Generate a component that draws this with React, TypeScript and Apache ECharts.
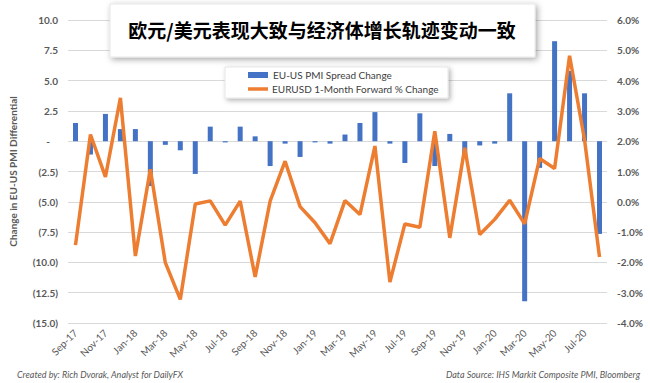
import React, { useEffect, useRef } from "react";
import * as echarts from "echarts";

const months = [
  "Sep-17", "Oct-17", "Nov-17", "Dec-17", "Jan-18", "Feb-18", "Mar-18", "Apr-18", "May-18", "Jun-18", "Jul-18", "Aug-18",
  "Sep-18", "Oct-18", "Nov-18", "Dec-18", "Jan-19", "Feb-19", "Mar-19", "Apr-19", "May-19", "Jun-19", "Jul-19", "Aug-19",
  "Sep-19", "Oct-19", "Nov-19", "Dec-19", "Jan-20", "Feb-20", "Mar-20", "Apr-20", "May-20", "Jun-20", "Jul-20", "Aug-20",
];

const pmiSpreadChange = [
  1.5, -1.1, 2.25, 1.0, 1.0, -3.7, -0.3, -0.75, -2.7, 1.2, -0.1, 1.2,
  0.4, -2.05, -0.2, -1.3, -0.1, -0.2, 0.55, 1.5, 2.4, -0.2, -1.8, 2.3,
  -2.05, 0.6, -1.1, -0.35, -0.2, 3.95, -13.2, -2.2, 8.25, 5.8, 3.95, -7.65,
];

const eurusdFwdChange = [
  -1.43, 2.22, 0.82, 3.43, -1.79, 1.07, -2.01, -3.22, -0.07, 0.03, -0.77, 0.02,
  -2.48, 0.02, 1.34, -0.16, -0.69, -1.38, 0.04, -0.42, 1.84, -2.65, -0.73, -0.84,
  2.33, -1.19, 1.78, -1.08, -0.58, 0.05, -0.73, 1.43, 1.10, 4.82, 2.05, -1.82,
];

const titleText = "欧元/美元表现大致与经济体增长轨迹变动一致";
const barName = "EU-US PMI Spread Change";
const lineName = "EURUSD 1-Month Forward % Change";
const leftAxisName = "Change in EU-US PMI Differential";
const creditText = "Created by: Rich Dvorak, Analyst for DailyFX";
const sourceText = "Data Source: IHS Markit Composite PMI, Bloomberg";

const FONT = "Lato, 'Liberation Sans', sans-serif";
const BLUE = "#4472C4";
const ORANGE = "#ED7D31";

export default function App() {
  const ref = useRef<HTMLDivElement>(null);

  useEffect(() => {
    if (!ref.current) return;
    const chart = echarts.init(ref.current, undefined, { renderer: "svg" });
    const leftFmt = (v: number) => {
      if (Math.abs(v) < 1e-9) return "{z|-}";
      if (v < 0) return "(" + Math.abs(v).toFixed(1) + ")";
      return v.toFixed(1);
    };
    chart.setOption({
      animation: false,
      grid: { left: 58, right: 43, top: 20, bottom: 60 },
      xAxis: {
        type: "category",
        data: months,
        axisLine: { show: false },
        axisTick: { show: false },
        axisLabel: {
          interval: 1,
          rotate: 45,
          color: "#595959",
          fontSize: 10,
          fontFamily: FONT,
          margin: 8,
        },
      },
      yAxis: [
        {
          type: "value",
          min: -15,
          max: 10,
          interval: 2.5,
          name: leftAxisName,
          nameLocation: "middle",
          nameGap: 50,
          nameRotate: 90,
          nameTextStyle: { color: "#595959", fontSize: 10, fontWeight: "bold", fontFamily: FONT },
          axisLine: { show: false },
          axisTick: { show: false },
          splitLine: { lineStyle: { color: "#d9d9d9", width: 1 } },
          axisLabel: {
            formatter: leftFmt,
            color: "#595959",
            fontSize: 10,
            fontWeight: "bold",
            fontFamily: FONT,
            margin: 10,
            rich: { z: { padding: [0, 8, 0, 0], color: "#595959", fontSize: 10, fontWeight: "bold" } },
          },
        },
        {
          type: "value",
          min: -4,
          max: 6,
          interval: 1,
          axisLine: { show: false },
          axisTick: { show: false },
          splitLine: { show: false },
          axisLabel: {
            formatter: (v: number) => v.toFixed(1) + "%",
            color: "#595959",
            fontSize: 10,
            fontWeight: "bold",
            fontFamily: FONT,
            margin: 10,
          },
        },
      ],
      series: [
        {
          name: barName,
          type: "bar",
          data: pmiSpreadChange,
          barWidth: 5,
          itemStyle: { color: BLUE },
        },
        {
          name: lineName,
          type: "line",
          yAxisIndex: 1,
          data: eurusdFwdChange,
          symbol: "none",
          z: 3,
          lineStyle: { color: ORANGE, width: 3.5 },
          itemStyle: { color: ORANGE },
        },
      ],
      graphic: [
        {
          type: "rect",
          z: 5,
          shape: { x: 110, y: 4, width: 425, height: 53 },
          style: {
            fill: "#ffffff",
            stroke: "#e6e6e6",
            lineWidth: 1,
            shadowBlur: 6,
            shadowColor: "rgba(0,0,0,0.35)",
            shadowOffsetX: 2,
            shadowOffsetY: 2,
          },
        },
        {
          type: "text",
          z: 6,
          x: 322,
          y: 29,
          style: {
            text: titleText,
            fontSize: 19,
            fontWeight: "bold",
            fontFamily: "'Noto Sans CJK SC', sans-serif",
            fill: "#000000",
            textAlign: "center",
            textVerticalAlign: "middle",
          },
        },
        {
          type: "rect",
          z: 5,
          shape: { x: 225, y: 67, width: 223, height: 31 },
          style: {
            fill: "#ffffff",
            stroke: "#e6e6e6",
            lineWidth: 1,
            shadowBlur: 5,
            shadowColor: "rgba(0,0,0,0.3)",
            shadowOffsetX: 2,
            shadowOffsetY: 2,
          },
        },
        {
          type: "rect",
          z: 6,
          shape: { x: 248, y: 72, width: 20, height: 6 },
          style: { fill: BLUE },
        },
        {
          type: "text",
          z: 6,
          x: 273,
          y: 75,
          style: {
            text: barName,
            fontSize: 10,
            fontFamily: FONT,
            fill: "#404040",
            textAlign: "left",
            textVerticalAlign: "middle",
          },
        },
        {
          type: "line",
          z: 6,
          shape: { x1: 248, y1: 89, x2: 268, y2: 89 },
          style: { stroke: ORANGE, lineWidth: 3.5 },
        },
        {
          type: "text",
          z: 6,
          x: 272,
          y: 89,
          style: {
            text: lineName,
            fontSize: 10,
            fontFamily: FONT,
            fill: "#404040",
            textAlign: "left",
            textVerticalAlign: "middle",
          },
        },
        {
          type: "text",
          z: 6,
          x: 17,
          y: 374,
          style: {
            text: creditText,
            fontSize: 9,
            fontStyle: "italic",
            fontFamily: FONT,
            fill: "#595959",
            textAlign: "left",
            textVerticalAlign: "middle",
          },
        },
        {
          type: "text",
          z: 6,
          x: 640,
          y: 374,
          style: {
            text: sourceText,
            fontSize: 9,
            fontStyle: "italic",
            fontFamily: FONT,
            fill: "#595959",
            textAlign: "right",
            textVerticalAlign: "middle",
          },
        },
      ],
    });
    return () => chart.dispose();
  }, []);

  return (
    <div
      ref={ref}
      style={{ position: "fixed", left: 0, top: 0, width: 650, height: 383, background: "#ffffff" }}
    />
  );
}
